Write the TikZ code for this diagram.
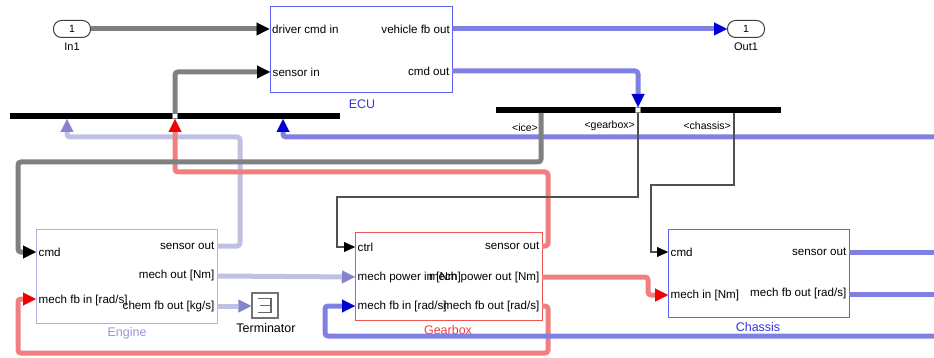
\documentclass[tikz,border=0pt]{standalone}
\usepackage{fontspec}
\setmainfont{Liberation Sans}
\usetikzlibrary{arrows.meta}

% signal and block colours
\definecolor{siggray}{RGB}{128,128,128}
\definecolor{sigblue}{RGB}{128,128,226}
\definecolor{siglav}{RGB}{192,192,228}
\definecolor{sigred}{RGB}{240,128,128}
\definecolor{thinwire}{RGB}{80,80,80}
\definecolor{tipblue}{RGB}{0,0,210}
\definecolor{tiplav}{RGB}{132,132,204}
\definecolor{tipred}{RGB}{240,0,0}
\definecolor{ecublue}{RGB}{96,96,240}
\definecolor{englav}{RGB}{178,178,226}
\definecolor{gbred}{RGB}{240,84,84}
\definecolor{namelav}{RGB}{150,150,216}
\definecolor{nameblue}{RGB}{52,52,224}
\definecolor{namered}{RGB}{240,64,64}

\tikzset{
  blk/.style={draw, line width=1pt, fill=white, inner sep=0pt},
  port/.style={inner sep=2.5pt, font=\fontsize{11.6}{13}\selectfont},
  bname/.style={inner sep=0pt, font=\fontsize{12.5}{14}\selectfont},
  busname/.style={inner sep=0pt, font=\fontsize{10.5}{12}\selectfont},
  iolabel/.style={draw=black!75, line width=1pt, fill=white, rounded corners=8pt,
    minimum width=37pt, minimum height=17pt, inner sep=0pt,
    font=\fontsize{10.5}{12}\selectfont},
  busbar/.style={fill=black, draw=none, inner sep=0pt, minimum height=6pt},
  wire/.style={line width=5pt, rounded corners=3pt},
  fattip/.style={-{Triangle[length=13pt,width=13pt,line width=0.01pt,color=#1]}},
  graysig/.style={wire, draw=siggray, fattip=black},
  bluesig/.style={wire, draw=sigblue, fattip=tipblue},
  bluesig free/.style={wire, draw=sigblue},
  lavsig/.style={wire, draw=siglav, fattip=tiplav},
  redsig/.style={wire, draw=sigred, fattip=tipred},
  thinsig/.style={line width=1.2pt, draw=thinwire,
    -{Triangle[length=11pt,width=10pt,line width=0.01pt,color=black]}},
  junction/.style={draw=siggray, fill=white, line width=0.8pt, minimum size=5pt, inner sep=0pt},
}

\begin{document}
\begin{tikzpicture}[x=1pt,y=-1pt]
\useasboundingbox (0,0) rectangle (934,358);

% ---------- blocks ----------
\node[iolabel] (in1) at (72,29) {1};
\node[bname, font=\fontsize{11}{13}\selectfont] (in1name) at (72,47) {In1};
\node[iolabel] (out1) at (746,29) {1};
\node[bname, font=\fontsize{11}{13}\selectfont] (out1name) at (746,47) {Out1};

\node[blk, draw=ecublue, minimum width=182pt, minimum height=86pt] (ecu) at (361,50) {};
\node[bname, text=nameblue] (ecuname) at (362,104) {ECU};

\node[busbar, minimum width=330pt] (bus1) at (175,116) {};
\node[busbar, minimum width=285pt] (bus2) at (638.5,110) {};

\node[blk, draw=englav, minimum width=181pt, minimum height=94pt] (engine) at (126.5,276) {};
\node[bname, text=namelav] (enginename) at (127,333) {Engine};

\node[blk, draw=gbred, minimum width=187pt, minimum height=88pt] (gearbox) at (448.5,276) {};
\node[bname, text=namered] (gearboxname) at (448,330) {Gearbox};

\node[blk, draw=ecublue, minimum width=181pt, minimum height=88pt] (chassis) at (758.5,273) {};
\node[bname, text=nameblue] (chassisname) at (758,327) {Chassis};

\node[blk, draw=black!55, line width=1.4pt, minimum width=26pt, minimum height=25pt] (term) at (265,305.5) {};
\draw[black!60, line width=1.3pt]
  (term.center) ++(-7,-7) -- ++(13,0) -- ++(0,14) -- ++(-13,0)
  (term.center) ++(-5,0) -- ++(11,0);
\node[bname] (termname) at (266,328) {Terminator};

% ---------- port positions ----------
\coordinate (ecu-drv) at (ecu.west |- in1.east);
\coordinate (ecu-sen) at (270,72);
\coordinate (ecu-vfb) at (ecu.east |- in1.east);
\coordinate (ecu-cmd) at (452,71);
\coordinate (eng-cmd) at (36,252);
\coordinate (eng-fb) at (36,299);
\coordinate (eng-sen) at (217,246);
\coordinate (eng-mech) at (217,276);
\coordinate (eng-chem) at (217,306);
\coordinate (gb-ctrl) at (355,247);
\coordinate (gb-pin) at (355,277);
\coordinate (gb-fbin) at (355,306);
\coordinate (gb-sen) at (542,246);
\coordinate (gb-pout) at (542,277);
\coordinate (gb-fbout) at (542,306);
\coordinate (ch-cmd) at (668,252);
\coordinate (ch-min) at (668,295);
\coordinate (ch-sen) at (849,252);
\coordinate (ch-fbout) at (849,294);
\coordinate (b1-sen) at (175,113);
\coordinate (b1-lav) at (67,119);
\coordinate (b1-red) at (175,119);
\coordinate (b1-blue) at (283,119);
\coordinate (b2-cmd) at (638,107);
\coordinate (b2-ice) at (541,113);
\coordinate (b2-gb) at (638,113);
\coordinate (b2-ch) at (734,113);
\coordinate (edge-top) at (934,137);
\coordinate (edge-bot) at (934,336);
\coordinate (edge-sen) at (934,252);
\coordinate (edge-fb) at (934,294);

% ---------- port labels ----------
\node[port, anchor=west] at (ecu-drv) {driver cmd in};
\node[port, anchor=west] at (ecu-sen) {sensor in};
\node[port, anchor=east] at (ecu-vfb) {vehicle fb out};
\node[port, anchor=east] at (ecu-cmd) {cmd out};

\node[port, anchor=west] at (eng-cmd) {cmd};
\node[port, anchor=west] at (36,301) {mech fb in [rad/s]};
\node[port, anchor=east] at (eng-sen) {sensor out};
\node[port, anchor=east] at (eng-mech) {mech out [Nm]};
\node[port, anchor=east] at (eng-chem) {chem fb out [kg/s]};

\node[port, anchor=west] at (gb-ctrl) {ctrl};
\node[port, anchor=west] at (gb-pin) {mech power in [Nm]};
\node[port, anchor=west] at (gb-fbin) {mech fb in [rad/s]};
\node[port, anchor=east] at (gb-sen) {sensor out};
\node[port, anchor=east] at (gb-pout) {mech power out [Nm]};
\node[port, anchor=east] at (gb-fbout) {mech fb out [rad/s]};

\node[port, anchor=west] at (ch-cmd) {cmd};
\node[port, anchor=west] at (ch-min) {mech in [Nm]};
\node[port, anchor=east] at (ch-sen) {sensor out};
\node[port, anchor=east] at (ch-fbout) {mech fb out [rad/s]};

\node[busname, anchor=east] at (538,128) {<ice>};
\node[busname, anchor=east] at (635,126) {<gearbox>};
\node[busname, anchor=east] at (731,126) {<chassis>};

% ---------- signals ----------
\draw[lavsig] (eng-sen) -- (240,246) -- (240,137) -- (67,137) -- (b1-lav);
\draw[redsig] (gb-sen) -- (548,246) -- (548,172) -- (175,172) -- (b1-red);
\draw[bluesig] (edge-top) -- (283,137) -- (b1-blue);
\draw[graysig] (b2-ice) -- (541,162) -- (18,162) -- (18,252) -- (eng-cmd);
\draw[graysig] (in1.east) -- (ecu-drv);
\draw[graysig] (b1-sen) -- (175,72) -- (ecu-sen);
\draw[bluesig] (ecu-vfb) -- (out1.west);
\draw[bluesig] (ecu-cmd) -- (638,71) -- (b2-cmd);
\draw[thinsig] (b2-gb) -- (638,197) -- (337,197) -- (337,247) -- (gb-ctrl);
\draw[thinsig] (b2-ch) -- (734,185) -- (651,185) -- (651,252) -- (ch-cmd);
\draw[lavsig] (eng-mech) -- (gb-pin);
\draw[lavsig] (eng-chem) -- (term.west |- eng-chem);
\draw[redsig] (gb-pout) -- (648,277) -- (648,295) -- (ch-min);
\draw[redsig] (gb-fbout) -- (548,306) -- (548,353) -- (18,353) -- (18,299) -- (eng-fb);
\draw[bluesig] (edge-bot) -- (325,336) -- (325,306) -- (gb-fbin);
\draw[bluesig free] (ch-sen) -- (edge-sen);
\draw[bluesig free] (ch-fbout) -- (edge-fb);

% bus taps
\node[junction] at (175,116) {};
\node[junction] at (638,110) {};
\end{tikzpicture}
\end{document}
